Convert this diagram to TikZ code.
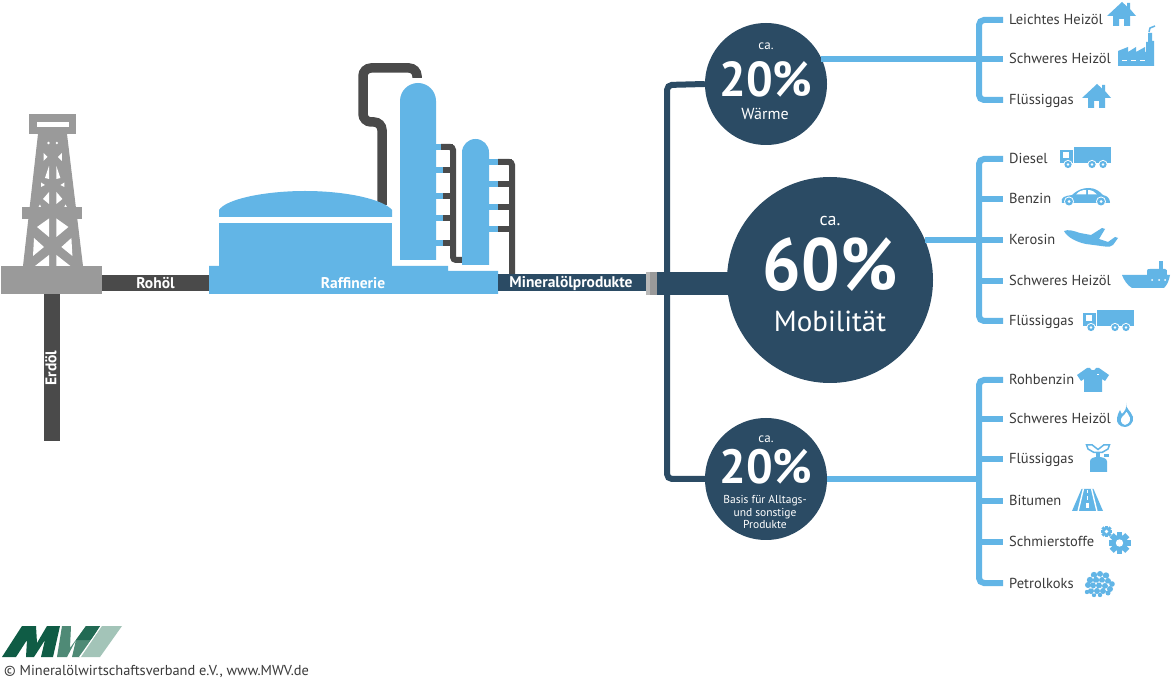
\documentclass[tikz,border=0pt]{standalone}
\usepackage{fontspec}
\setmainfont{PT Sans}
\definecolor{sky}{HTML}{62B5E6}
\definecolor{navy}{HTML}{2B4B64}
\definecolor{steel}{HTML}{9A9A9A}
\definecolor{pipe}{HTML}{4A4A4A}
\definecolor{txt}{HTML}{3A3A3A}
\newcommand{\fs}[1]{\fontsize{#1}{#1}\selectfont}
\tikzset{
  label/.style={anchor=west,inner xsep=6pt,inner ysep=0pt,text=txt,font=\fs{14.5},text height=12pt,text depth=2pt},
  pipelabel/.style={inner sep=0pt,text=white,font=\bfseries\fs{15.5}},
  bub/.style={circle,fill=navy,inner sep=0pt},
  bubtext/.style={inner sep=0pt,text=white,align=center},
  bluebranch/.style={draw=sky,line width=6pt,rounded corners=5pt},
  navyline/.style={draw=navy,line width=6pt,rounded corners=5pt},
  darkpipe/.style={draw=pipe,line width=9.5pt,rounded corners=8pt},
  comb/.style={draw=pipe,line width=6pt,rounded corners=3pt},
  house/.pic={
    \fill[sky] (15,0) -- (20,4.5) -- (20,1) -- (23,1) -- (23,7) -- (29,14) -- (23,14) -- (23,24) -- (17,24) -- (17,17) -- (12,17) -- (12,24) -- (6,24) -- (6,14) -- (0,14) -- cycle;
  },
  truck/.pic={
    \fill[sky] (14,0) rectangle (51,16);
    \fill[sky] (0,3) rectangle (12.5,16);
    \fill[white] (3,5.5) rectangle (9,11);
    \foreach \xx in {8,32,43}{
      \fill[white] (\xx,17.5) circle (4.6);
      \fill[sky] (\xx,17.5) circle (3.6);
      \fill[white] (\xx,17.5) circle (1.4);
    }
  },
  car/.pic={
    \fill[sky] (1,15) .. controls (-1,9) and (4,8) .. (11,7) .. controls (17,1.5) and (22,0) .. (28,0) .. controls (35,0) and (39,4) .. (42,7) .. controls (47,8) and (49,11) .. (49,15) -- cycle;
    \fill[white] (15,6.5) .. controls (18,3) and (21,2) .. (25,2) -- (25,6.5) -- cycle;
    \fill[white] (27,2) .. controls (31,2) and (34,4) .. (36,6.5) -- (27,6.5) -- cycle;
    \foreach \xx in {8,40}{
      \fill[white] (\xx,13.5) circle (5);
      \fill[sky] (\xx,13.5) circle (4);
      \fill[white] (\xx,13.5) circle (1.5);
    }
  },
  plane/.pic={
    \fill[sky] (0,3) .. controls (4,1) and (10,3) .. (16,5) -- (27,7) -- (38,0) -- (41,1) -- (35,11) -- (44,14) -- (51,9) -- (54,10) -- (49,17) .. controls (47,19) and (44,19) .. (41,18.5) -- (22,16) .. controls (12,14) and (3,9) .. (0,3) -- cycle;
  },
  ship/.pic={
    \fill[sky] (0,14) -- (48,14) .. controls (47,20) and (45,24) .. (42,27) -- (10,27) .. controls (5,24) and (2,19) .. (0,14) -- cycle;
    \fill[sky] (25,14) -- (25,10) .. controls (25,8) and (26,8) .. (28,8) -- (43,8) .. controls (45,8) and (45,9) .. (45,14) -- cycle;
    \fill[sky] (37,0) rectangle (41,8);
    \foreach \xx in {30,37,43}{\fill[white] (\xx,19) circle (1);}
  },
  factory/.pic={
    \fill[sky] (0,41) -- (0,26) -- (10,22) -- (10,27) -- (18,22) -- (18,27) -- (27,22) -- (27,27) -- (28,27) -- (28,17) -- (30,17) -- (30,8) -- (34,8) -- (34,16) -- (36,16) -- (36,41) -- cycle;
    \draw[sky,line width=1.5pt] (31,7) -- (32,3) -- (37,1);
    \foreach \xx in {4,13,22}{\fill[white] (\xx,35) rectangle ++(5,1.5);}
  },
  shirt/.pic={
    \fill[sky] (0,7) -- (10,0) -- (13,0) .. controls (14,3) and (18,3) .. (19,0) -- (22,0) -- (32,7) -- (28,13) -- (25,11) -- (25,24) -- (7,24) -- (7,11) -- (4,13) -- cycle;
    \fill[white] (20,6) rectangle ++(1.5,1.5);
  },
  flame/.pic={
    \fill[sky,even odd rule] (9,0) .. controls (8,5) and (14,8) .. (16,14) .. controls (17,20) and (12,24) .. (8,24) .. controls (3,24) and (-1,20) .. (0,15) .. controls (0,12) and (2,10) .. (3,7) .. controls (4,9) and (4,10) .. (5,11) .. controls (8,8) and (10,5) .. (9,0) -- cycle
      (8,22) .. controls (12,21) and (14,18) .. (13,14.5) .. controls (12,12) and (10.5,10) .. (9.5,8.5) .. controls (8.5,11) and (6.5,12) .. (5,14) .. controls (3,16) and (3,21) .. (8,22) -- cycle;
  },
  stove/.pic={
    \draw[sky,line width=1.5pt] (0.5,0.8) -- (6,0.8) -- (12,5.5) -- (18,0.8) -- (23.5,0.8) -- (22,5) -- (16,8.5) -- (8,8.5) -- (2,5) -- cycle;
    \fill[sky] (10,8) rectangle (14,14);
    \fill[sky] (4,28) -- (4,17.5) .. controls (4,14) and (8,13) .. (12,13) .. controls (16,13) and (21,14) .. (21,17.5) -- (21,28) -- cycle;
    \fill[sky] (18,10.5) rectangle (23,13.5);
  },
  road/.pic={
    \fill[sky] (9.5,0) -- (21.5,0) -- (31,22) -- (0,22) -- cycle;
    \draw[white,line width=1.4pt] (11.5,-0.5) -- (6,22.5);
    \draw[white,line width=1.4pt] (19.5,-0.5) -- (25,22.5);
    \fill[white] (14.9,1.5) rectangle (16.1,4.5);
    \fill[white] (14.7,7.5) rectangle (16.3,11);
    \fill[white] (14.4,14.5) rectangle (16.6,19.5);
  },
  coke/.pic={
    \foreach \xx/\yy/\rr in {9/4/3.2,15/3/3,21/4.5/3.2,5/9/3.2,11/9/3.2,17/9/3,23/10/3,27/13/2.8,3/14/3,8/14.5/3,14/14.5/3,20/15/3,25/18/3,6/20/3,12/20/3,18/20/3,2/21/2.2,23/22/2.5,9/24/2.2,15/24/2.2}{
      \fill[sky] (\xx,\yy) circle (\rr);
    }
    \foreach \xx/\yy in {8/6.6,14/6,20/7.5,11/12,17/12,23/13,6/17,15/17.5,21/18,9/22}{
      \fill[white] (\xx,\yy) circle (0.9);
    }
  },
}
\newcommand{\gear}[3]{% x y r
  \foreach \a in {0,45,...,315}{
    \fill[sky,shift={(#1,#2)},rotate=\a] (-0.33*#3,0.7*#3) rectangle (0.33*#3,1.25*#3);
  }
  \fill[sky] (#1,#2) circle (0.92*#3);
  \fill[white] (#1,#2) circle (0.42*#3);
}
\begin{document}
\begin{tikzpicture}[x=1pt,y=-1pt,line cap=butt]
\useasboundingbox (0,0) rectangle (1171,692);
\fill[white] (0,0) rectangle (1171,692);

% coordinates on the pipes
\coordinate (oilL) at (102,283);
\coordinate (oilR) at (209,283);
\coordinate (wellT) at (52,294);
\coordinate (wellB) at (52,441);
\coordinate (prodL) at (498,283);
\coordinate (prodR) at (646,283);

% pipes from the platform
\draw[pipe,line width=16pt] (wellT) -- (wellB);
\draw[pipe,line width=16pt] (oilL) -- (oilR);
\node[pipelabel,rotate=90] (erdoel) at (51,368) {Erdöl};
\node[pipelabel] (rohoel) at (155.5,283.5) {Rohöl};

% derrick
\fill[steel] (1,266) rectangle (102,294);
\fill[steel] (29,114) rectangle (76,134);
\fill[white] (37,122) rectangle (69,127);
\fill[steel] (38,134) -- (67,134) -- (83,266) -- (23,266) -- cycle;
\fill[steel] (22,207) rectangle (82,219);
\foreach \s/\c in {1/0,-1/105.4}{
  \begin{scope}[shift={(\c,0)},xscale=\s]
    \fill[white] (37,227) -- (49,218.5) -- (49,237) -- cycle;
    \fill[white] (33,256) -- (34,238) -- (44,247) -- cycle;
    \fill[white] (35,266) -- (49,266) -- (49,255) -- cycle;
    \fill[white] (43.5,161) -- (43.5,153) -- (47.5,157) -- cycle;
    \fill[white] (45,178) -- (49,166) -- (49,179) -- cycle;
    \fill[white] (41,187) -- (41,182.5) -- (45,185) -- cycle;
    \fill[white] (43,199) -- (49,192) -- (49,204) -- cycle;
    \fill[white] (38.5,207) -- (40,204.5) -- (41,207) -- cycle;
    \fill[white] (48.5,143) circle (1.3);
  \end{scope}
}

% refinery pipes behind
\draw[darkpipe] (382,205) -- (382,122) -- (363,122) -- (363,68) -- (417,68) -- (417,78);
\foreach \yy in {147,170,196,218,243}{
  \fill[sky] (436,\yy-2.7) rectangle (443,\yy+2.7);
  \fill[pipe] (443,\yy-2.7) rectangle (453,\yy+2.7);
}
\draw[comb] (441,147) -- (453,147) -- (453,260) -- (463,260);
\foreach \yy in {162,184,207,229}{
  \fill[sky] (489,\yy-2.7) rectangle (498,\yy+2.7);
  \fill[pipe] (498,\yy-2.7) rectangle (512,\yy+2.7);
}
\draw[comb] (498,162) -- (512,162) -- (512,276);

% refinery body
\fill[sky] (209,294) -- (209,266) -- (448,266) -- (448,271) -- (498,271) -- (498,294) -- cycle;
\fill[sky] (219,223) rectangle (392,268);
\fill[sky] (219,217) -- (219,210) .. controls (226,199) and (265,191) .. (305,191) .. controls (345,191) and (383,199) .. (392,210) -- (392,217) -- cycle;
\fill[sky] (400,260) -- (400,101) arc[start angle=180,end angle=360,radius=18] -- (436,260) -- cycle;
\fill[sky] (462,265) -- (462,152.5) arc[start angle=180,end angle=360,radius=13.5] -- (489,265) -- cycle;
\node[pipelabel] (raff) at (353,283.5) {Raffinerie};

% products bar
\draw[navy,line width=17pt] (prodL) -- (prodR);
\node[pipelabel] (minoel) at (571,283.5) {Mineralölprodukte};

% valve
\fill[steel] (646,272) rectangle (657,295);
\fill[steel!70!white] (646,272) rectangle (650,295);

% bubbles
\node[bub,minimum size=122pt] (warm) at (766,84) {};
\node[bub,minimum size=206pt] (mob) at (830,280) {};
\node[bub,minimum size=122pt] (base) at (766,479) {};

% trunk
\coordinate (trunkT) at (667,85);
\coordinate (trunkB) at (667,479);
\draw[navyline] (warm.west) -- (trunkT) -- (trunkB) -- (base.west);
\fill[navy] (657,272) rectangle (735,295);

% right branches
\coordinate (b1) at (979,59);
\coordinate (b2) at (979,240);
\coordinate (b3) at (979,479);
\draw[bluebranch] (warm.center |- b1) ++(55,0) -- (b1);
\draw[bluebranch] (925,240) -- (b2);
\draw[bluebranch] (base.east) -- (b3);

% top labels
\node[label] (a1) at (1003,20) {Leichtes Heizöl};
\node[label] (a2) at (1003,59) {Schweres Heizöl};
\node[label] (a3) at (1003,100) {Flüssiggas};
\draw[bluebranch] (a1.west) -- (979,20) -- (979,100) -- (a3.west);
\draw[bluebranch] (b1) -- (a2.west);

% middle labels
\node[label] (m1) at (1003,159) {Diesel};
\node[label] (m2) at (1003,199) {Benzin};
\node[label] (m3) at (1003,240) {Kerosin};
\node[label] (m4) at (1003,281) {Schweres Heizöl};
\node[label] (m5) at (1003,321) {Flüssiggas};
\draw[bluebranch] (m1.west) -- (979,159) -- (979,321) -- (m5.west);
\draw[bluebranch] (979,199) -- (m2.west);
\draw[bluebranch] (b2) -- (m3.west);
\draw[bluebranch] (979,281) -- (m4.west);

% bottom labels
\node[label] (u1) at (1003,380) {Rohbenzin};
\node[label] (u2) at (1003,419) {Schweres Heizöl};
\node[label] (u3) at (1003,459) {Flüssiggas};
\node[label] (u4) at (1003,501) {Bitumen};
\node[label] (u5) at (1003,542) {Schmierstoffe};
\node[label] (u6) at (1003,583) {Petrolkoks};
\draw[bluebranch] (u1.west) -- (979,380) -- (979,583) -- (u6.west);
\draw[bluebranch] (979,419) -- (u2.west);
\draw[bluebranch] (979,459) -- (u3.west);
\draw[bluebranch] (979,501) -- (u4.west);
\draw[bluebranch] (979,542) -- (u5.west);

% bubble texts
\node[bubtext,font=\fs{13}] (t1a) at (766,46) {ca.};
\node[bubtext,font=\bfseries\fs{49},xscale=0.96] (t1b) at (766,79) {20\%};
\node[bubtext,font=\fs{16}] (t1c) at (765,114) {Wärme};
\node[bubtext,font=\fs{18}] (t2a) at (830,221) {ca.};
\node[bubtext,font=\bfseries\fs{74},xscale=0.92] (t2b) at (830,265) {60\%};
\node[bubtext,font=\fs{29}] (t2c) at (830,321) {Mobilität};
\node[bubtext,font=\fs{13}] (t3a) at (766,439) {ca.};
\node[bubtext,font=\bfseries\fs{48},xscale=0.98] (t3b) at (766,467) {20\%};
\node[bubtext,font=\fontsize{11.5}{12.8}\selectfont] (t3c) at (765,512) {Basis für Alltags-\\und sonstige\\Produkte};

% icons
\pic at (1107,2) {house};
\pic at (1118,25) {factory};
\pic at (1082,84) {house};
\pic at (1060,147) {truck};
\pic at (1061,188) {car};
\pic at (1064,228) {plane};
\pic at (1122,261) {ship};
\pic at (1083,310) {truck};
\pic at (1077,368) {shirt};
\pic at (1117,403) {flame};
\pic at (1086,444) {stove};
\pic at (1072,489) {road};
\gear{1106.5}{531.5}{4.6}
\gear{1119.5}{543}{8.8}
\pic at (1085,571) {coke};

% logo
\definecolor{mw1}{HTML}{0F5C45}
\definecolor{mw2}{HTML}{4F8A76}
\definecolor{mw3}{HTML}{A3C4B8}
\fill[mw1] (2,657) -- (22,626) -- (36,626) -- (37,643) -- (47,626) -- (60,626) -- (53,657) -- (41,657) -- (45,640) -- (34,657) -- (26,657) -- (27,640) -- (16,657) -- cycle;
\fill[mw2] (57,657) -- (62,626) -- (71,626) -- (70,648) -- (86,626) -- (100,626) -- (80,657) -- (72,657) -- (76,640) -- (67,657) -- cycle;
\fill[mw1!70!mw2] (86,626) -- (100,626) -- (91,640) -- (84,640) -- (76,640) -- cycle;
\fill[white] (79,657) -- (101,626) -- (102,626) -- (81,657) -- cycle;
\fill[mw3] (102,626) -- (122,626) -- (100,657) -- (81,657) -- cycle;
\node[inner sep=0pt,anchor=west,text=txt,font=\fs{14.4}] (copy) at (4,671) {© Mineralölwirtschaftsverband e.V., www.MWV.de};
\end{tikzpicture}
\end{document}
